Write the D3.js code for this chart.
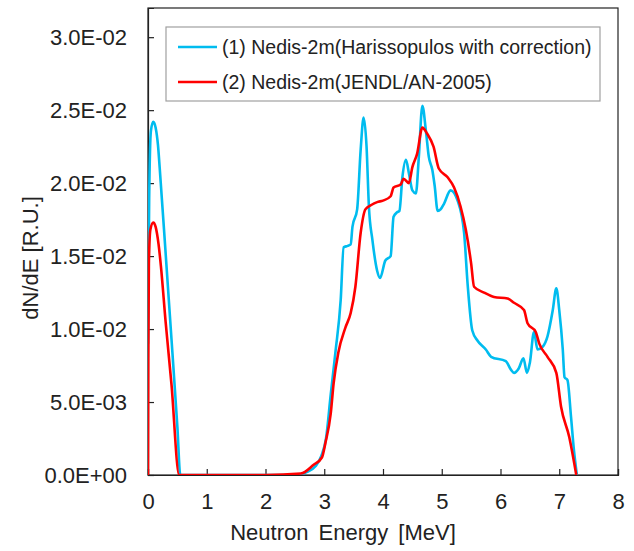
<!DOCTYPE html>
<html>
<head>
<meta charset="utf-8">
<script src="https://cdn.jsdelivr.net/npm/d3@7.9.0/dist/d3.min.js"></script>
<style>
  html, body { margin: 0; padding: 0; background: #fff; }
  svg { display: block; font-family: "Liberation Sans", Arial, sans-serif; }
</style>
</head>
<body>
<svg id="chart" width="634" height="551"></svg>
<script>
// series 1: Nedis-2m (Harissopulos with correction) -- [energy MeV, dN/dE]
const harissopulos = [
  [0, 0.009], [0.02, 0.019], [0.05, 0.0236], [0.09, 0.0242], [0.13, 0.0238], [0.17, 0.0226],
  [0.2, 0.021], [0.3, 0.0152], [0.4, 0.0093], [0.5, 0.0033], [0.55, 0], [1.0, 0], [2.0, 0],
  [2.5, 0], [2.7, 0.0002], [2.85, 0.0006], [2.95, 0.0013], [3.03, 0.0025], [3.11, 0.0055],
  [3.19, 0.0084], [3.28, 0.012], [3.33, 0.0156], [3.40, 0.0157], [3.45, 0.0158], [3.48, 0.017],
  [3.56, 0.0182], [3.62, 0.0223], [3.67, 0.0245], [3.72, 0.0225], [3.76, 0.0184], [3.82, 0.0161],
  [3.90, 0.014], [3.95, 0.0135], [4.04, 0.0147], [4.13, 0.015], [4.18, 0.0177], [4.24, 0.018],
  [4.28, 0.0181], [4.33, 0.0204], [4.39, 0.0216], [4.44, 0.0207], [4.50, 0.0195], [4.56, 0.0193],
  [4.61, 0.0218], [4.67, 0.0253], [4.73, 0.0236], [4.78, 0.0218], [4.84, 0.0209], [4.88, 0.0198],
  [4.93, 0.0181], [4.98, 0.0182], [5.04, 0.0186], [5.15, 0.0195], [5.27, 0.0188], [5.38, 0.0166],
  [5.44, 0.0131], [5.52, 0.0099], [5.61, 0.0092], [5.75, 0.0086], [5.84, 0.0081], [6.09, 0.0078],
  [6.18, 0.0072], [6.23, 0.0070], [6.31, 0.0073], [6.39, 0.0080], [6.45, 0.0070], [6.50, 0.0077],
  [6.57, 0.0098], [6.63, 0.0086], [6.72, 0.0088], [6.80, 0.0095], [6.89, 0.0113], [6.95, 0.0128],
  [7.00, 0.0113], [7.06, 0.0086], [7.09, 0.0067], [7.14, 0.0065], [7.20, 0.0040], [7.25, 0.0017],
  [7.30, 0]
];

// series 2: Nedis-2m (JENDL/AN-2005)
const jendl = [
  [0, 0], [0.005, 0.008], [0.015, 0.0145], [0.04, 0.0168], [0.09, 0.0173], [0.13, 0.017],
  [0.18, 0.0158], [0.22, 0.0143], [0.3, 0.0105], [0.4, 0.0062], [0.53, 0], [1.0, 0], [2.0, 0],
  [2.6, 0.0001], [2.82, 0.0007], [2.96, 0.0012], [3.02, 0.0022], [3.11, 0.0042], [3.16, 0.0063],
  [3.24, 0.0084], [3.36, 0.0101], [3.45, 0.0111], [3.53, 0.0129], [3.62, 0.0166], [3.70, 0.0182],
  [3.80, 0.0185], [3.90, 0.0187], [4.0, 0.0188], [4.13, 0.0191], [4.18, 0.0197], [4.30, 0.0199],
  [4.35, 0.0203], [4.44, 0.0200], [4.50, 0.0211], [4.58, 0.0220], [4.67, 0.0238], [4.75, 0.0234],
  [4.86, 0.0225], [4.95, 0.0210], [5.10, 0.0204], [5.21, 0.0197], [5.32, 0.0184], [5.41, 0.0168],
  [5.50, 0.0145], [5.55, 0.0129], [5.72, 0.0125], [5.89, 0.0122], [6.12, 0.0121], [6.23, 0.0118],
  [6.40, 0.0113], [6.46, 0.0104], [6.60, 0.0098], [6.66, 0.0090], [6.80, 0.0081], [6.95, 0.0070],
  [7.03, 0.0047], [7.17, 0.0026], [7.29, 0]
];

const seriesNames = [
  '(1) Nedis-2m(Harissopulos with correction)',
  '(2) Nedis-2m(JENDL/AN-2005)'
];
const seriesColors = ['#00bcef', '#ff0000'];
const xTicks = [0, 1, 2, 3, 4, 5, 6, 7, 8];
const yTicks = [0, 0.005, 0.01, 0.015, 0.02, 0.025, 0.03];
const yTickLabels = ['0.0E+00', '5.0E-03', '1.0E-02', '1.5E-02', '2.0E-02', '2.5E-02', '3.0E-02'];

const svg = d3.select('#chart');
const plot = { left: 148, right: 618, top: 8, bottom: 475 };

const x = d3.scaleLinear().domain([0, 8]).range([plot.left, plot.right]);
const y = d3.scaleLinear().domain([0, 0.032]).range([plot.bottom, plot.top]);

// clip lines to the plot box
svg.append('clipPath').attr('id', 'clip')
  .append('rect')
  .attr('x', plot.left).attr('y', plot.top - 2)
  .attr('width', plot.right - plot.left).attr('height', plot.bottom - plot.top + 2);

// frame
svg.append('rect')
  .attr('x', plot.left).attr('y', plot.top)
  .attr('width', plot.right - plot.left).attr('height', plot.bottom - plot.top)
  .attr('fill', 'none').attr('stroke', '#222').attr('stroke-width', 1.2);

// axes with inward ticks
const xAxis = d3.axisBottom(x).tickValues(xTicks).tickSize(-6).tickPadding(18).tickFormat(d3.format('d'));
const yAxis = d3.axisLeft(y).tickValues(yTicks).tickSize(-6).tickPadding(21)
  .tickFormat((d, i) => yTickLabels[i]);

const gx = svg.append('g').attr('transform', `translate(0,${plot.bottom})`).call(xAxis);
const gy = svg.append('g').attr('transform', `translate(${plot.left},0)`).call(yAxis);

[gx, gy].forEach(g => {
  g.select('.domain').attr('stroke', '#222').attr('stroke-width', 1.2);
  g.selectAll('.tick line').attr('stroke', '#222').attr('stroke-width', 1.2);
  g.selectAll('.tick text').attr('fill', '#222')
    .style('font-size', '22px').style('font-family', '"Liberation Sans", Arial, sans-serif');
});

// axis titles
svg.append('text')
  .attr('x', 343).attr('y', 540)
  .attr('text-anchor', 'middle').attr('fill', '#222')
  .style('font-size', '22px').style('word-spacing', '4px')
  .text('Neutron Energy [MeV]');

svg.append('text')
  .attr('transform', 'translate(38,258) rotate(-90)')
  .attr('text-anchor', 'middle').attr('fill', '#222')
  .style('font-size', '22px')
  .text('dN/dE [R.U.]');

// lines
const line = d3.line()
  .x(d => x(d[0]))
  .y(d => y(d[1]))
  .curve(d3.curveMonotoneX);

const lines = svg.append('g').attr('clip-path', 'url(#clip)');
[harissopulos, jendl].forEach((s, i) => {
  lines.append('path')
    .datum(s)
    .attr('d', line)
    .attr('fill', 'none')
    .attr('stroke', seriesColors[i])
    .attr('stroke-width', 2.6)
    .attr('stroke-linejoin', 'round');
});

// legend
const legend = svg.append('g');
legend.append('rect')
  .attr('x', 166).attr('y', 27).attr('width', 434).attr('height', 74)
  .attr('fill', '#fff').attr('stroke', '#a0a0a0').attr('stroke-width', 1.2);

seriesNames.forEach((name, i) => {
  const ly = 47 + i * 35;
  legend.append('line')
    .attr('x1', 178).attr('x2', 217).attr('y1', ly).attr('y2', ly)
    .attr('stroke', seriesColors[i]).attr('stroke-width', 2.6);
  legend.append('text')
    .attr('x', 222).attr('y', ly + 7)
    .attr('fill', '#222')
    .style('font-size', '19.5px')
    .text(name);
});
</script>
</body>
</html>
